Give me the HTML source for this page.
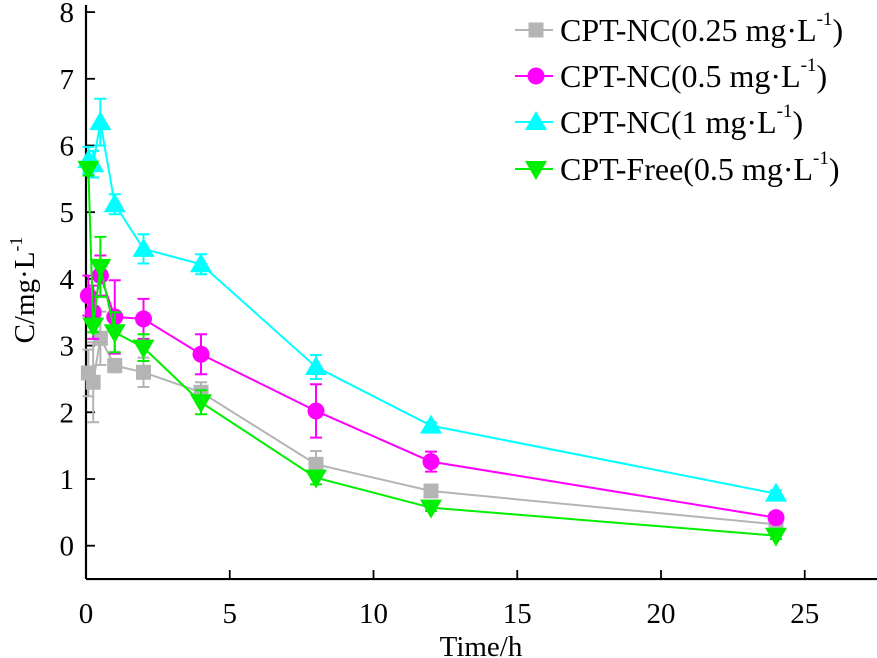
<!DOCTYPE html>
<html><head><meta charset="utf-8"><style>
body{margin:0;background:#fff}
svg{display:block;font-family:"Liberation Serif",serif}
</style></head><body>
<svg id="chart" width="877" height="658" viewBox="0 0 877 658" xmlns="http://www.w3.org/2000/svg">
<g id="axes"></g>
<g id="plot"></g>
<g id="legend"></g>
<text x="481" y="656" font-size="29" text-anchor="middle">Time/h</text>
<text transform="translate(34,290) rotate(-90)" font-size="29" text-anchor="middle">C/mg·L<tspan font-size="18" dy="-12">-1</tspan></text>
</svg>
<script>
const times = [0.083, 0.25, 0.5, 1, 2, 4, 8, 12, 24];
const seriesNames = ["CPT-NC(0.25 mg·L", "CPT-NC(0.5 mg·L", "CPT-NC(1 mg·L", "CPT-Free(0.5 mg·L"];
const grayVals = [2.59, 2.45, 3.11, 2.7, 2.6, 2.3, 1.22, 0.82, 0.32];
const magentaVals = [3.75, 3.5, 4.05, 3.43, 3.4, 2.87, 2.02, 1.26, 0.42];
const cyanVals = [5.78, 5.72, 6.35, 5.12, 4.45, 4.22, 2.68, 1.8, 0.78];
const greenVals = [5.65, 3.3, 4.18, 3.2, 2.97, 2.15, 1.02, 0.57, 0.15];
const grayErr = [0.35, 0.6, 0.4, 0.1, 0.22, 0.15, 0.2, 0.05, 0.05];
const magentaErr = [0.3, 0.4, 0.3, 0.55, 0.3, 0.3, 0.4, 0.15, 0.05];
const cyanErr = [0.2, 0.2, 0.35, 0.15, 0.22, 0.15, 0.18, 0.05, 0.05];
const greenErr = [0.1, 0.1, 0.45, 0.3, 0.2, 0.18, 0.1, 0.05, 0.05];
const xTicks = [0, 5, 10, 15, 20, 25];
const yTicks = [0, 1, 2, 3, 4, 5, 6, 7, 8];

const NS = "http://www.w3.org/2000/svg";
const X0 = 86, XS = 28.75, Y0 = 545.7, YS = 66.7;
const xs = v => X0 + v * XS;
const ys = v => Y0 - v * YS;
function mk(tag, attrs, parent) {
  const e = document.createElementNS(NS, tag);
  for (const k in attrs) e.setAttribute(k, attrs[k]);
  parent.appendChild(e);
  return e;
}
const axes = document.getElementById("axes");
const plot = document.getElementById("plot");
const legend = document.getElementById("legend");
const axisY = ys(-0.5);

let xl = mk("line", {x1: X0, y1: axisY, x2: 877, y2: axisY, stroke: "#000", "stroke-width": 2.2}, axes);


let yl = mk("line", {x1: X0, y1: axisY, x2: X0, y2: 5, stroke: "#000", "stroke-width": 2.2}, axes);



xTicks.forEach(t => {
  if (t > 0) {
    const tk = mk("line", {x1: xs(t), y1: axisY, x2: xs(t), y2: axisY - 9, stroke: "#000", "stroke-width": 1.8}, axes);
    
    
  }
  const tx = mk("text", {x: xs(t), y: axisY + 44, "font-size": 29, "text-anchor": "middle"}, axes);
  tx.textContent = t;
  
  
});
yTicks.forEach(t => {
  const tk = mk("line", {x1: X0, y1: ys(t), x2: X0 + 9, y2: ys(t), stroke: "#000", "stroke-width": 1.8}, axes);
  
  
  const tx = mk("text", {x: X0 - 12, y: ys(t) + 10, "font-size": 29, "text-anchor": "end"}, axes);
  tx.textContent = t;
  
  
});

function marker(type, x, y, color, parent) {
  let e;
  if (type === "square") e = mk("rect", {x: x - 7.5, y: y - 7.5, width: 15, height: 15, fill: color}, parent);
  else if (type === "circle") e = mk("circle", {cx: x, cy: y, r: 8.5, fill: color}, parent);
  else if (type === "up") e = mk("polygon", {points: `${x},${y-11} ${x-11},${y+8} ${x+11},${y+8}`, fill: color}, parent);
  else e = mk("polygon", {points: `${x},${y+11} ${x-11},${y-8} ${x+11},${y-8}`, fill: color}, parent);
  return e;
}

const series = [
  {vals: grayVals, err: grayErr, color: "#b4b4b4", m: "square", key: "gray"},
  {vals: magentaVals, err: magentaErr, color: "#ff00ff", m: "circle", key: "magenta"},
  {vals: cyanVals, err: cyanErr, color: "#00ffff", m: "up", key: "cyan"},
  {vals: greenVals, err: greenErr, color: "#00ee00", m: "down", key: "green"}
];
series.forEach((s, si) => {
  const g = mk("g", {}, plot);
  
  
  s.vals.forEach((v, i) => {
    const x = xs(times[i]), e = s.err[i];
    const eb = mk("path", {d: `M${x},${ys(v+e)}V${ys(v-e)}M${x-6},${ys(v+e)}h12M${x-6},${ys(v-e)}h12`, stroke: s.color, "stroke-width": 2, fill: "none"}, g);
    
    
  });
  const pl = mk("polyline", {points: s.vals.map((v, i) => xs(times[i]) + "," + ys(v)).join(" "), stroke: s.color, "stroke-width": 2, fill: "none"}, g);
  
  
  s.vals.forEach((v, i) => {
    const mm = marker(s.m, xs(times[i]), ys(v), s.color, g);
    
    
  });
  const ly = [30, 76, 122, 169][si];
  const lg = mk("g", {}, legend);
  
  
  mk("line", {x1: 515, y1: ly, x2: 553, y2: ly, stroke: s.color, "stroke-width": 2}, lg);
  marker(s.m, 536, ly, s.color, lg);
  const t = mk("text", {x: 560, y: ly + 11, "font-size": 32}, lg);
  t.textContent = seriesNames[si];
  const sup = mk("tspan", {"font-size": 19, dy: -16}, t);
  sup.textContent = "-1";
  const cl = mk("tspan", {dy: 16}, t);
  cl.textContent = ")";
});
</script>
</body></html>
